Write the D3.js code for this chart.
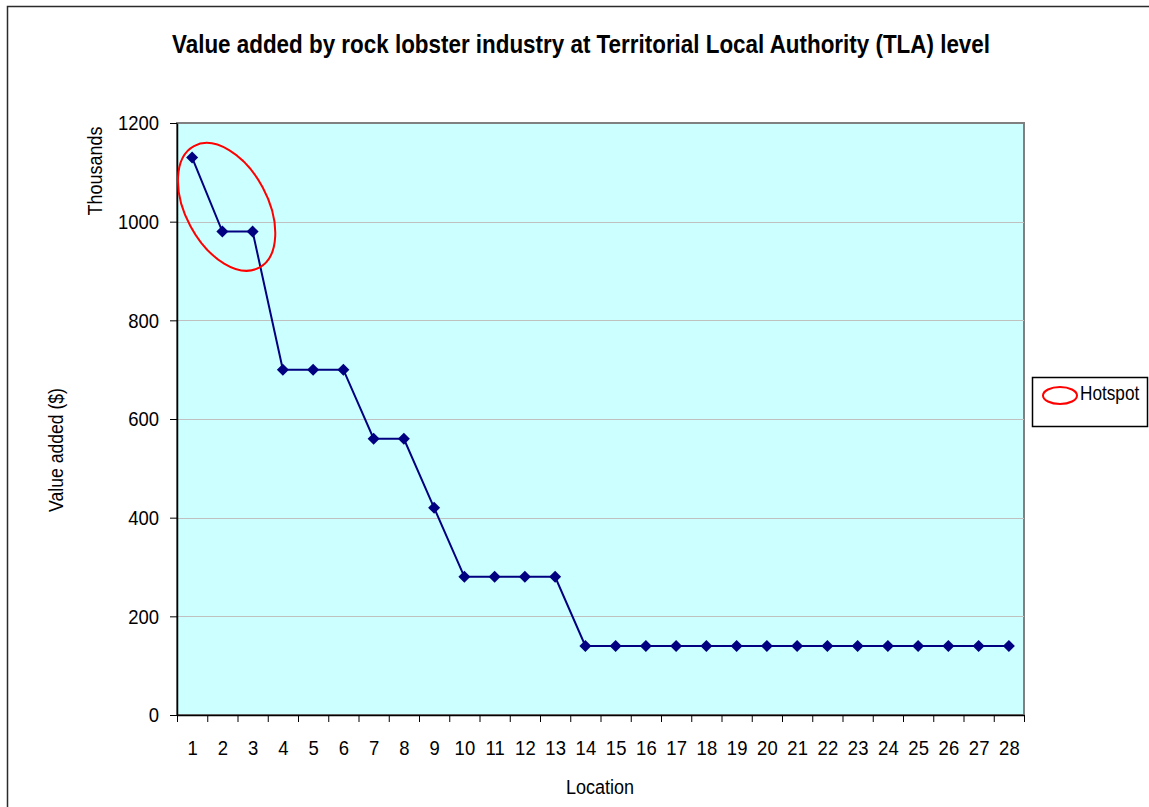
<!DOCTYPE html>
<html>
<head>
<meta charset="utf-8">
<script src="https://cdn.jsdelivr.net/npm/d3@7"></script>
<style>
  html, body { margin: 0; padding: 0; background: #ffffff; }
  svg { display: block; }
  text { font-family: "Liberation Sans", Arial, sans-serif; fill: #000; }
</style>
</head>
<body>
<svg id="chart" width="1149" height="807"></svg>
<script>
// ---- data ----
const categories = d3.range(1, 29);
const values = [1130, 980, 980, 700, 700, 700, 560, 560, 420, 280, 280, 280, 280,
                140, 140, 140, 140, 140, 140, 140, 140, 140, 140, 140, 140, 140, 140, 140];
const yTicks = [0, 200, 400, 600, 800, 1000, 1200];
const titleText = "Value added by rock lobster industry at Territorial Local Authority (TLA) level";
const xTitle = "Location";
const yTitle = "Value added ($)";
const yUnit = "Thousands";
const legendLabel = "Hotspot";
// hotspot annotation centre in data terms (category position, value)
const hotspotCat = [2.14];
const hotspotVal = [1030];

// ---- layout ----
const svg = d3.select("#chart");
const plot = { left: 177, right: 1024, top: 123, bottom: 715 };
const x = d3.scaleLinear().domain([0.5, categories.length + 0.5]).range([plot.left, plot.right]);
const y = d3.scaleLinear().domain([0, 1200]).range([plot.bottom, plot.top]);

function condense(sel, k) {
  sel.each(function () {
    const w = this.getComputedTextLength();
    d3.select(this).attr("textLength", w * k).attr("lengthAdjust", "spacingAndGlyphs");
  });
}

// outer frame
svg.append("rect").attr("x", 7.5).attr("y", 6.5).attr("width", 1300).attr("height", 1000)
  .attr("fill", "#fff").attr("stroke", "#2b2b2b").attr("stroke-width", 1.5);

// plot background
svg.append("rect").attr("x", plot.left).attr("y", plot.top)
  .attr("width", plot.right - plot.left).attr("height", plot.bottom - plot.top)
  .attr("fill", "#CCFFFF").attr("stroke", "#808080").attr("stroke-width", 2);

// gridlines
svg.append("g").selectAll("line").data(yTicks.filter(d => d > 0 && d < 1200)).join("line")
  .attr("x1", plot.left).attr("x2", plot.right)
  .attr("y1", d => Math.round(y(d)) + 0.5).attr("y2", d => Math.round(y(d)) + 0.5)
  .attr("stroke", "#c0c0c0").attr("stroke-width", 1);

// y axis
const gy = svg.append("g").attr("transform", `translate(${plot.left},0)`)
  .call(d3.axisLeft(y).tickValues(yTicks).tickSize(7).tickPadding(11).tickSizeOuter(0).tickFormat(d3.format("d")));
gy.select(".domain").attr("stroke", "#000").attr("stroke-width", 1.5);
gy.selectAll(".tick line").attr("stroke", "#000");
gy.selectAll(".tick text").attr("font-size", 21).attr("font-family", "Liberation Sans, Arial, sans-serif").call(condense, 0.88);

// x axis: boundary ticks
const gxt = svg.append("g").attr("transform", `translate(0,${plot.bottom})`)
  .call(d3.axisBottom(x).tickValues(d3.range(0.5, categories.length + 1, 1)).tickSize(7).tickFormat("").tickSizeOuter(0));
gxt.select(".domain").attr("stroke", "#000").attr("stroke-width", 1.5);
gxt.selectAll(".tick line").attr("stroke", "#000");
// x axis: labels
const gxl = svg.append("g").attr("transform", `translate(0,${plot.bottom})`)
  .call(d3.axisBottom(x).tickValues(categories).tickSize(0).tickPadding(25).tickFormat(d3.format("d")));
gxl.select(".domain").remove();
gxl.selectAll(".tick text").attr("font-size", 21).attr("font-family", "Liberation Sans, Arial, sans-serif").call(condense, 0.88);

// line
svg.append("path").datum(values)
  .attr("d", d3.line().x((d, i) => x(categories[i])).y(d => y(d)))
  .attr("fill", "none").attr("stroke", "#000080").attr("stroke-width", 2);

// markers
svg.append("g").selectAll("path").data(values).join("path")
  .attr("d", d3.symbol(d3.symbolSquare, 72))
  .attr("transform", (d, i) => `translate(${x(categories[i])},${y(d)}) rotate(45)`)
  .attr("fill", "#000080");

// hotspot ellipse
svg.append("ellipse")
  .attr("transform", `translate(${x(hotspotCat[0])},${y(hotspotVal[0])}) rotate(61.8)`)
  .attr("rx", 69).attr("ry", 41)
  .attr("fill", "none").attr("stroke", "#ff0000").attr("stroke-width", 2);

// title
svg.append("text").attr("x", 581).attr("y", 53).attr("text-anchor", "middle")
  .attr("font-size", 25).attr("font-weight", "bold").text(titleText)
  .attr("textLength", 818).attr("lengthAdjust", "spacingAndGlyphs");

// axis titles
svg.append("text").attr("x", 600).attr("y", 794).attr("text-anchor", "middle")
  .attr("font-size", 20).text(xTitle).call(condense, 0.9);
svg.append("text").attr("transform", "translate(63,450) rotate(-90)").attr("text-anchor", "middle")
  .attr("font-size", 20).text(yTitle).call(condense, 0.88);
svg.append("text").attr("transform", "translate(102,171) rotate(-90)").attr("text-anchor", "middle")
  .attr("font-size", 20).text(yUnit).call(condense, 0.9);

// legend
const lg = svg.append("g");
lg.append("rect").attr("x", 1032.5).attr("y", 377.5).attr("width", 115).attr("height", 49)
  .attr("fill", "#fff").attr("stroke", "#000").attr("stroke-width", 1.5);
lg.append("ellipse").attr("cx", 1060).attr("cy", 395.5).attr("rx", 17).attr("ry", 8.5)
  .attr("fill", "none").attr("stroke", "#ff0000").attr("stroke-width", 2);
lg.append("text").attr("x", 1080).attr("y", 400).attr("font-size", 20).text(legendLabel).call(condense, 0.86);
</script>
</body>
</html>
